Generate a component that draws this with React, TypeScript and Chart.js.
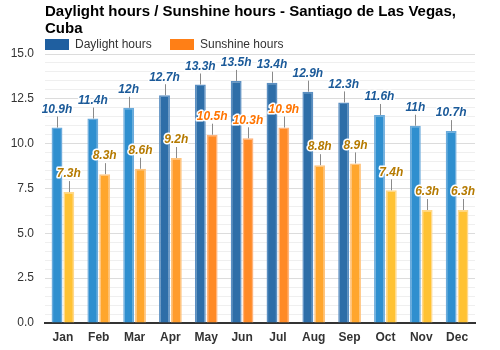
import React, { useEffect, useRef } from "react";
import { Chart, registerables } from "chart.js";

Chart.register(...registerables);

const months = ["Jan", "Feb", "Mar", "Apr", "May", "Jun", "Jul", "Aug", "Sep", "Oct", "Nov", "Dec"];
const daylight = [10.9, 11.4, 12, 12.7, 13.3, 13.5, 13.4, 12.9, 12.3, 11.6, 11, 10.7];
const sunshine = [7.3, 8.3, 8.6, 9.2, 10.5, 10.3, 10.9, 8.8, 8.9, 7.4, 6.3, 6.3];
const titleLines = ["Daylight hours / Sunshine hours - Santiago de Las Vegas,", "Cuba"];
const legendNames = ["Daylight hours", "Sunshine hours"];

const FONT = "'Liberation Sans', Arial, sans-serif";

const dayFill = (v: number) => (v >= 12.2 ? "#2e6ea8" : "#2f8fcf");
const dayBorder = (v: number) => (v >= 12.2 ? "#5b8fc2" : "#6aaadb");
const sunFill = (v: number) => (v >= 10 ? "#ff8a26" : v >= 9 ? "#ff9c2c" : v >= 8 ? "#ffa62d" : "#ffc233");
const sunBorder = (v: number) => (v >= 10 ? "#ffb37a" : v >= 8 ? "#ffc47e" : "#ffd88a");
const dayLabelColor = () => "#1b5a99";
const sunLabelColor = (v: number) => (v >= 10 ? "#ff7400" : "#b57a00");

const fmt = (v: number) => (Number.isInteger(v) ? `${v}h` : `${v.toFixed(1)}h`);

const decorPlugin = {
  id: "decor",
  afterDatasetsDraw(chart: any) {
    const ctx = chart.ctx;
    ctx.save();
    chart.data.datasets.forEach((ds: any, di: number) => {
      const meta = chart.getDatasetMeta(di);
      meta.data.forEach((el: any, i: number) => {
        const v = ds.data[i];
        const x = el.x;
        const top = el.y;
        ctx.strokeStyle = "#8a8a8a";
        ctx.lineWidth = 1;
        ctx.beginPath();
        ctx.moveTo(Math.round(x) + 0.5, top);
        ctx.lineTo(Math.round(x) + 0.5, top - 11);
        ctx.stroke();
        ctx.font = `italic bold 12px ${FONT}`;
        ctx.textAlign = "center";
        ctx.textBaseline = "middle";
        ctx.lineJoin = "round";
        ctx.strokeStyle = "#ffffff";
        ctx.lineWidth = 3;
        const t = fmt(v);
        ctx.strokeText(t, x, top - 18);
        ctx.fillStyle = di === 0 ? dayLabelColor() : sunLabelColor(v);
        ctx.fillText(t, x, top - 18);
      });
    });
    ctx.restore();
  },
  afterDraw(chart: any) {
    const ctx = chart.ctx;
    ctx.save();
    ctx.fillStyle = "#000000";
    ctx.font = `bold 15px ${FONT}`;
    ctx.textAlign = "left";
    ctx.textBaseline = "alphabetic";
    ctx.fillText(titleLines[0], 45, 16);
    ctx.fillText(titleLines[1], 45, 33);
    ctx.font = `12px ${FONT}`;
    ctx.textBaseline = "middle";
    const items = [
      { x: 45, color: "#1f5fa0", name: legendNames[0] },
      { x: 170, color: "#ff7f16", name: legendNames[1] },
    ];
    items.forEach((it) => {
      ctx.fillStyle = it.color;
      ctx.fillRect(it.x, 39, 24, 11);
      ctx.fillStyle = "#333333";
      ctx.fillText(it.name, it.x + 30, 44.5);
    });
    ctx.restore();
  },
};

export default function App() {
  const ref = useRef<HTMLCanvasElement | null>(null);
  useEffect(() => {
    document.body.style.margin = "0";
    const canvas = ref.current!;
    const chart = new Chart(canvas, {
      type: "bar",
      data: {
        labels: months,
        datasets: [
          {
            label: legendNames[0],
            data: daylight,
            backgroundColor: daylight.map(dayFill),
            borderColor: daylight.map(dayBorder),
            borderWidth: 1.5,
            categoryPercentage: 0.66,
            barPercentage: 0.92,
          },
          {
            label: legendNames[1],
            data: sunshine,
            backgroundColor: sunshine.map(sunFill),
            borderColor: sunshine.map(sunBorder),
            borderWidth: 1.5,
            categoryPercentage: 0.66,
            barPercentage: 0.92,
          },
        ],
      },
      options: {
        responsive: false,
        animation: false,
        devicePixelRatio: 1,
        layout: { padding: { top: 54, right: 25, left: 0, bottom: 0 } },
        plugins: {
          legend: { display: false },
          title: { display: false },
          tooltip: { enabled: false },
        },
        scales: {
          x: {
            grid: { display: false, drawTicks: false },
            border: { display: true, color: "#333333", width: 2 },
            ticks: {
              padding: 7,
              color: "#333333",
              font: { family: FONT, size: 12, weight: "bold" },
            },
            afterFit: (s: any) => {
              s.height = 27;
            },
          },
          y: {
            min: 0,
            max: 15,
            grid: {
              drawTicks: false,
              color: (c: any) => (c.tick && Math.abs(c.tick.value % 2.5) < 1e-6 ? "#dcdcdc" : "#efefef"),
              lineWidth: 1,
            },
            border: { display: false },
            ticks: {
              stepSize: 0.5,
              autoSkip: false,
              maxTicksLimit: 100,
              padding: 11,
              color: "#333333",
              font: { family: FONT, size: 12 },
              callback: (v: any) => (Math.abs(Number(v) % 2.5) < 1e-6 ? Number(v).toFixed(1) : ""),
            },
            afterFit: (s: any) => {
              s.width = 45;
            },
          },
        },
      },
      plugins: [decorPlugin],
    } as any);
    return () => chart.destroy();
  }, []);
  return (
    <div style={{ width: 500, height: 350 }}>
      <canvas ref={ref} width={500} height={350} />
    </div>
  );
}
